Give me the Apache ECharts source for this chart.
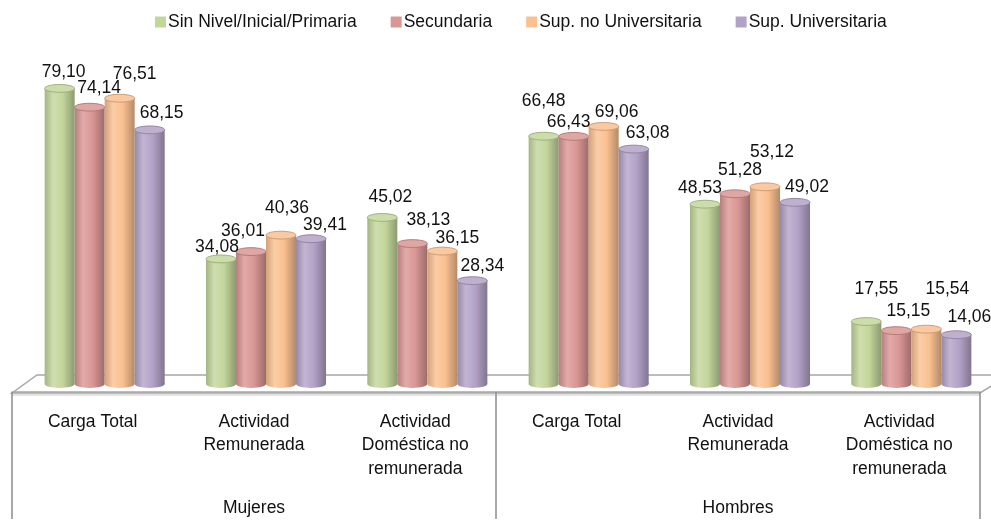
<!DOCTYPE html>
<html>
<head>
<meta charset="utf-8">
<script src="https://cdn.jsdelivr.net/npm/echarts@6/dist/echarts.min.js"></script>
<style>
  html, body { margin: 0; padding: 0; background: #ffffff; }
  #chart { width: 991px; height: 520px; }
</style>
</head>
<body>
<div id="chart"></div>
<script>
// Activity categories (repeated for each sex) and the two sex groups
const subCategories = ['Carga Total', 'Actividad\nRemunerada', 'Actividad\nDoméstica no\nremunerada'];
const groups = ['Mujeres', 'Hombres'];
const seriesNames = ['Sin Nivel/Inicial/Primaria', 'Secundaria', 'Sup. no Universitaria', 'Sup. Universitaria'];

// Hours per education level, ordered: Mujeres (3 activities), Hombres (3 activities)
const sinNivel   = [79.10, 34.08, 45.02, 66.48, 48.53, 17.55];
const secundaria = [74.14, 36.01, 38.13, 66.43, 51.28, 15.15];
const supNoUniv  = [76.51, 40.36, 36.15, 69.06, 53.12, 15.54];
const supUniv    = [68.15, 39.41, 28.34, 63.08, 49.02, 14.06];

const seriesValues = [sinNivel, secundaria, supNoUniv, supUniv];
const seriesColors = ['#c3d69b', '#d99694', '#fac090', '#b3a2c7'];

// Value-label placement tweaks: [dx, distance above the cylinder top]
const labelNudge = [
  [[4, 16.5], [-4, 12], [8, 20], [0, 35], [-5, 16.5], [10, 32]],
  [[9.5, 19], [-8, 20.5], [16, 23.5], [-5, 14], [5, 23.5], [12, 19]],
  [[15, 24.5], [6, 27], [15, 13], [13, 14], [7, 35], [21, 39.5]],
  [[12, 16.5], [14, 14], [10, 14], [14, 16], [12, 14.7], [13, 18]]
];

const FONT = "'Liberation Sans', Arial, sans-serif";
const FONT_SIZE = 17.5;
const W = 991, H = 520;
const GRID = { left: 12, right: 11, top: 85, bottom: 131 };
const DEPTH_X = 12;      // sideways shift of the bars into the 3D floor
const FLOOR_BACK = 375;  // back edge of the floor
const FLOOR_FRONT = 393; // front edge of the floor
const BAR_RATIO = 0.186; // cylinder width relative to the category band

const categories = [];
groups.forEach(() => subCategories.forEach(c => categories.push(c)));

function rgb(hex) {
  const n = parseInt(hex.slice(1), 16);
  return [(n >> 16) & 255, (n >> 8) & 255, n & 255];
}
function shade(hex, f) {
  return 'rgb(' + rgb(hex).map(c => Math.max(0, Math.min(255, Math.round(c * f)))).join(',') + ')';
}
function tint(hex, t) {
  return 'rgb(' + rgb(hex).map(c => Math.round(c + (255 - c) * t)).join(',') + ')';
}
function fmt(v) { return v.toFixed(2).replace('.', ','); }

function cylinder(si) {
  const color = seriesColors[si];
  const bodyFill = () => new echarts.graphic.LinearGradient(0, 0, 1, 0, [
    { offset: 0, color: shade(color, 0.84) },
    { offset: 0.28, color: tint(color, 0.2) },
    { offset: 0.6, color: color },
    { offset: 1, color: shade(color, 0.72) }
  ]);
  return function (params, api) {
    const ci = api.value(0);
    const v = api.value(1);
    const top = api.coord([ci, v]);
    const base = api.coord([ci, 0]);
    const cw = api.size([1, 0])[0];
    const w = cw * BAR_RATIO;
    const cx = top[0] + DEPTH_X + (si - 1.5) * w;
    const ry = w * 0.13;
    const bottomY = base[1] - ry;
    const nudge = labelNudge[si][ci];
    return {
      type: 'group',
      children: [
        { type: 'ellipse', shape: { cx: cx, cy: bottomY, rx: w / 2, ry: ry }, style: { fill: bodyFill() } },
        { type: 'rect', shape: { x: cx - w / 2, y: top[1], width: w, height: bottomY - top[1] }, style: { fill: bodyFill() } },
        { type: 'ellipse', shape: { cx: cx, cy: top[1], rx: w / 2, ry: ry },
          style: { fill: tint(color, 0.15), stroke: shade(color, 0.82), lineWidth: 1 } },
        { type: 'text', z2: 100,
          style: { text: fmt(v), x: cx + nudge[0], y: top[1] - nudge[1], fill: '#111111',
                   fontSize: FONT_SIZE, fontFamily: FONT, align: 'center', verticalAlign: 'middle' } }
      ]
    };
  };
}

const chart = echarts.init(document.getElementById('chart'), null, { renderer: 'canvas', width: W, height: H });

const floorColor = '#a6a6a6';
const gx0 = GRID.left, gx1 = W - GRID.right;

chart.setOption({
  animation: false,
  backgroundColor: '#ffffff',
  legend: {
    data: seriesNames,
    top: 8,
    left: 150,
    icon: 'rect',
    itemWidth: 11,
    itemHeight: 11,
    itemGap: 34,
    textStyle: { fontSize: FONT_SIZE, fontFamily: FONT, color: '#111111', padding: [0, 0, 0, -3] }
  },
  grid: { left: GRID.left, right: GRID.right, top: GRID.top, bottom: GRID.bottom },
  graphic: [
    {
      type: 'polygon', z: 0, silent: true,
      shape: { points: [[gx0, FLOOR_FRONT], [gx0 + 25, FLOOR_BACK], [W + 2, FLOOR_BACK], [W + 2, FLOOR_FRONT - 8], [gx1, FLOOR_FRONT]] },
      style: { fill: '#ffffff', stroke: floorColor, lineWidth: 1.5 }
    },
    {
      type: 'line', z: 0, silent: true,
      shape: { x1: gx0, y1: FLOOR_FRONT + 2, x2: gx1, y2: FLOOR_FRONT + 2 },
      style: { stroke: '#e4e4e4', lineWidth: 2 }
    }
  ],
  xAxis: [
    {
      type: 'category',
      data: categories,
      position: 'bottom',
      axisLine: { show: false },
      axisTick: { show: false },
      axisLabel: { interval: 0, margin: 22, fontSize: FONT_SIZE, lineHeight: 23.5, fontFamily: FONT, color: '#111111' }
    },
    {
      type: 'category',
      data: groups,
      position: 'bottom',
      offset: FLOOR_FRONT - (H - GRID.bottom),
      axisLine: { show: true, lineStyle: { color: floorColor, width: 1.5 } },
      axisTick: { show: true, length: H - FLOOR_FRONT, lineStyle: { color: '#8c8c8c', width: 1.5 } },
      axisLabel: { interval: 0, margin: 105, fontSize: FONT_SIZE, lineHeight: 23, fontFamily: FONT, color: '#111111' }
    }
  ],
  yAxis: { type: 'value', min: 0, max: 80, show: false },
  series: seriesValues.map((vals, si) => ({
    type: 'custom',
    name: seriesNames[si],
    xAxisIndex: 0,
    yAxisIndex: 0,
    itemStyle: { color: seriesColors[si] },
    renderItem: cylinder(si),
    encode: { x: 0, y: 1 },
    data: vals.map((v, i) => [i, v])
  }))
});
</script>
</body>
</html>
